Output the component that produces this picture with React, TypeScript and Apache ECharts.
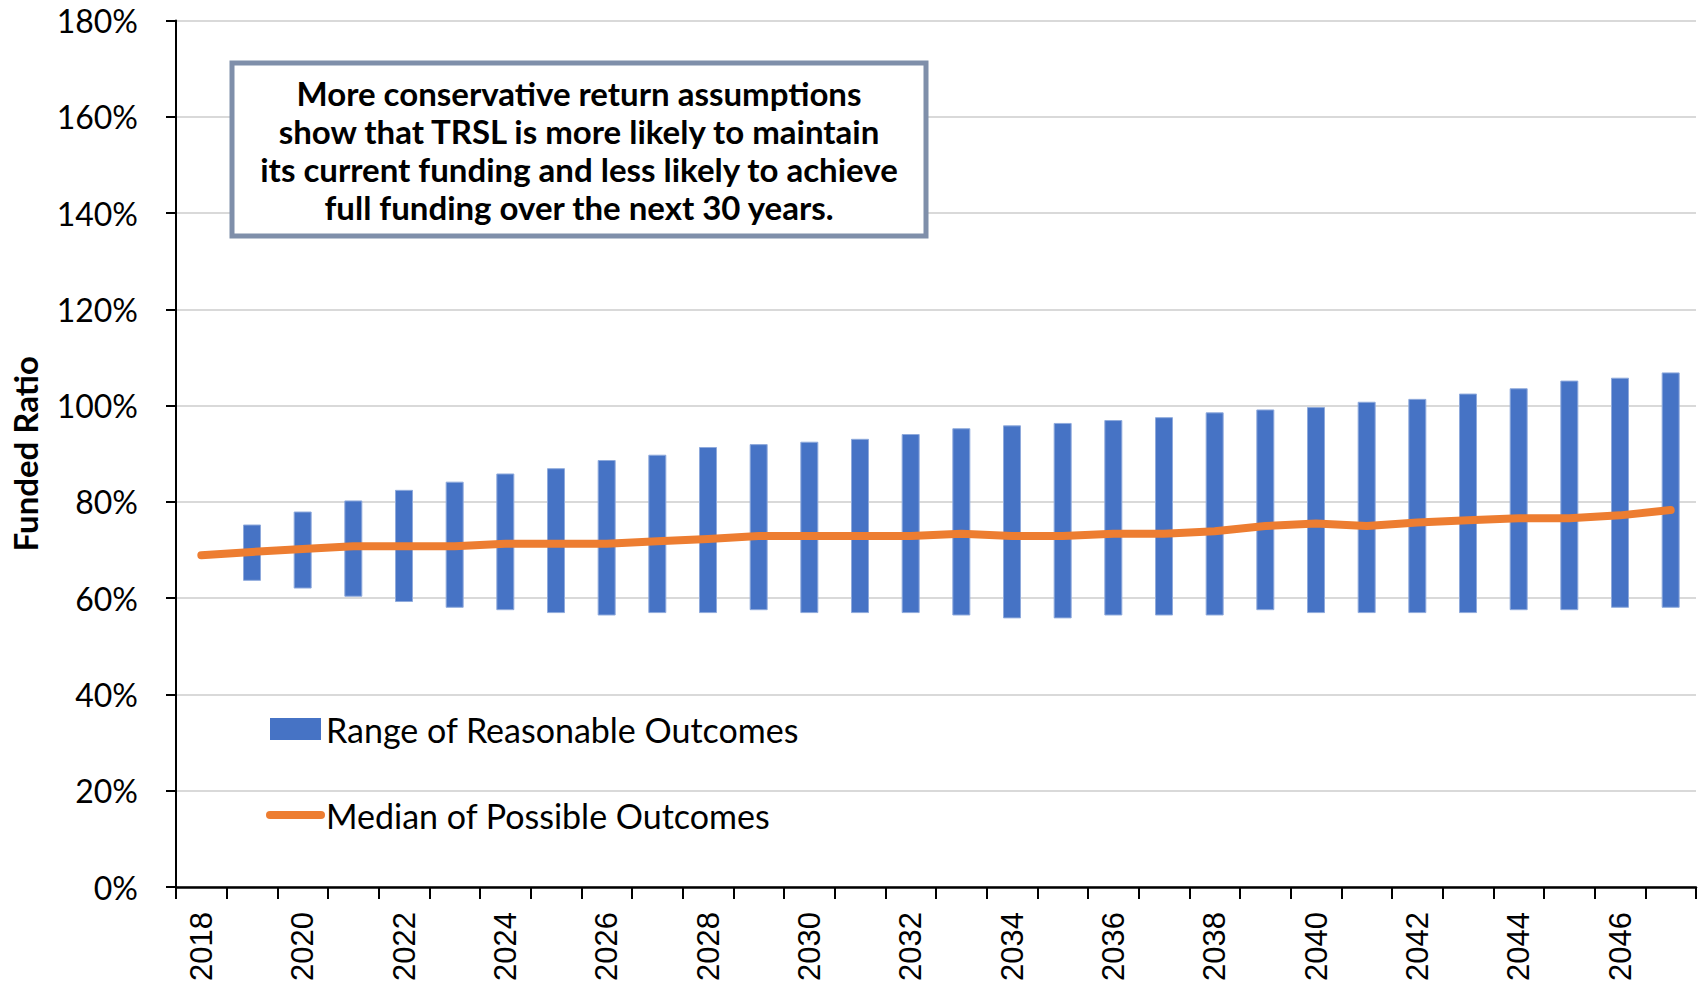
import React, { useEffect, useRef } from "react";
import * as echarts from "echarts";

const years = [
  "2018", "2019", "2020", "2021", "2022", "2023", "2024", "2025", "2026", "2027",
  "2028", "2029", "2030", "2031", "2032", "2033", "2034", "2035", "2036", "2037",
  "2038", "2039", "2040", "2041", "2042", "2043", "2044", "2045", "2046", "2047",
];

// Range of reasonable outcomes (low / high), starting 2019 (null = no bar in 2018)
const rangeLow = [
  null, 63.6, 62.0, 60.3, 59.2, 58.0, 57.5, 56.9, 56.4, 56.9,
  56.9, 57.5, 56.9, 56.9, 56.9, 56.4, 55.8, 55.8, 56.4, 56.4,
  56.4, 57.5, 56.9, 56.9, 56.9, 56.9, 57.5, 57.5, 58.0, 58.0,
];
const rangeHigh = [
  null, 75.3, 78.0, 80.3, 82.5, 84.2, 85.9, 87.0, 88.7, 89.8,
  91.4, 92.0, 92.5, 93.1, 94.1, 95.3, 95.9, 96.4, 97.0, 97.6,
  98.6, 99.2, 99.7, 100.8, 101.4, 102.5, 103.6, 105.2, 105.8, 106.9,
];
const median = [
  68.9, 69.6, 70.2, 70.8, 70.8, 70.8, 71.3, 71.3, 71.3, 71.8,
  72.3, 72.9, 72.9, 72.9, 72.9, 73.4, 72.9, 72.9, 73.4, 73.4,
  73.9, 75.0, 75.5, 75.0, 75.7, 76.2, 76.6, 76.6, 77.2, 78.3,
];

const yTicks = { min: 0, max: 180, interval: 20 };

const noteLines = [
  "More conservative return assumptions",
  "show that TRSL is more likely to maintain",
  "its current funding and less likely to achieve",
  "full funding over the next 30 years.",
];

const RANGE_NAME = "Range of Reasonable Outcomes";
const MEDIAN_NAME = "Median of Possible Outcomes";

export default function App() {
  const ref = useRef<HTMLDivElement>(null);

  useEffect(() => {
    if (!ref.current) return;
    const chart = echarts.init(ref.current, null, { renderer: "svg" });

    const baseData = rangeLow.map((v) => (v == null ? "-" : v));
    const spanData = rangeLow.map((v, i) =>
      v == null || rangeHigh[i] == null ? "-" : +((rangeHigh[i] as number) - v).toFixed(2)
    );

    chart.setOption({
      animation: false,
      backgroundColor: "#ffffff",
      grid: { left: 172, right: 6, top: 20.5, bottom: 100, containLabel: false },
      legend: {
        orient: "vertical",
        left: 261,
        top: 707,
        itemWidth: 51,
        itemHeight: 22,
        itemGap: 52,
        textStyle: {
          fontFamily: "Lato",
          fontSize: 34,
          lineHeight: 34,
          color: "#000",
        },
        data: [
          { name: RANGE_NAME, icon: "rect", itemStyle: { borderWidth: 0 } },
          {
            name: MEDIAN_NAME,
            itemStyle: { opacity: 0 },
            lineStyle: { width: 8, cap: "round", color: "#ED7D31" },
          },
        ],
      },
      xAxis: {
        type: "category",
        data: years,
        boundaryGap: true,
        axisLine: { lineStyle: { color: "#000", width: 2.5 } },
        axisTick: {
          show: true,
          interval: 0,
          length: 12,
          lineStyle: { color: "#000", width: 2 },
        },
        axisLabel: {
          interval: 1,
          rotate: 90,
          margin: 25,
          fontFamily: "Liberation Sans",
          fontSize: 31,
          color: "#000",
        },
        splitLine: { show: false },
      },
      yAxis: {
        type: "value",
        min: yTicks.min,
        max: yTicks.max,
        interval: yTicks.interval,
        name: "Funded Ratio",
        nameLocation: "middle",
        nameRotate: 90,
        nameGap: 135,
        nameTextStyle: {
          fontFamily: "Lato",
          fontWeight: "bold",
          fontSize: 33,
          color: "#000",
        },
        axisLine: { show: true, lineStyle: { color: "#000", width: 2 } },
        axisTick: { show: true, length: 10, lineStyle: { color: "#000", width: 2 } },
        axisLabel: {
          formatter: "{value}%",
          margin: 38,
          fontFamily: "Lato",
          fontSize: 32,
          color: "#000",
        },
        splitLine: { show: true, lineStyle: { color: "#D9D9D9", width: 2 } },
      },
      series: [
        {
          name: "base",
          type: "bar",
          stack: "range",
          data: baseData,
          barWidth: 18,
          itemStyle: { color: "transparent" },
          emphasis: { disabled: true },
          silent: true,
        },
        {
          name: RANGE_NAME,
          type: "bar",
          stack: "range",
          data: spanData,
          barWidth: 18,
          itemStyle: { color: "#4673C5", borderColor: "#8FAADC", borderWidth: 1 },
        },
        {
          name: MEDIAN_NAME,
          type: "line",
          data: median,
          symbol: "none",
          z: 5,
          lineStyle: { color: "#ED7D31", width: 8, cap: "round", join: "round" },
          itemStyle: { color: "#ED7D31" },
        },
      ],
      graphic: [
        {
          type: "rect",
          z: 100,
          zlevel: 1,
          shape: { x: 232, y: 63, width: 694, height: 173 },
          style: { fill: "#ffffff", stroke: "#7F8FAA", lineWidth: 5 },
        },
        {
          type: "text",
          z: 101,
          zlevel: 1,
          x: 579,
          y: 150,
          style: {
            text: noteLines.join("\n"),
            align: "center",
            verticalAlign: "middle",
            fontFamily: "Lato",
            fontWeight: "bold",
            fontSize: 33,
            lineHeight: 38,
            fill: "#000",
          },
        },
      ],
    });

    return () => chart.dispose();
  }, []);

  return (
    <div
      ref={ref}
      style={{ position: "fixed", left: 0, top: 0, width: 1702, height: 987 }}
    />
  );
}
